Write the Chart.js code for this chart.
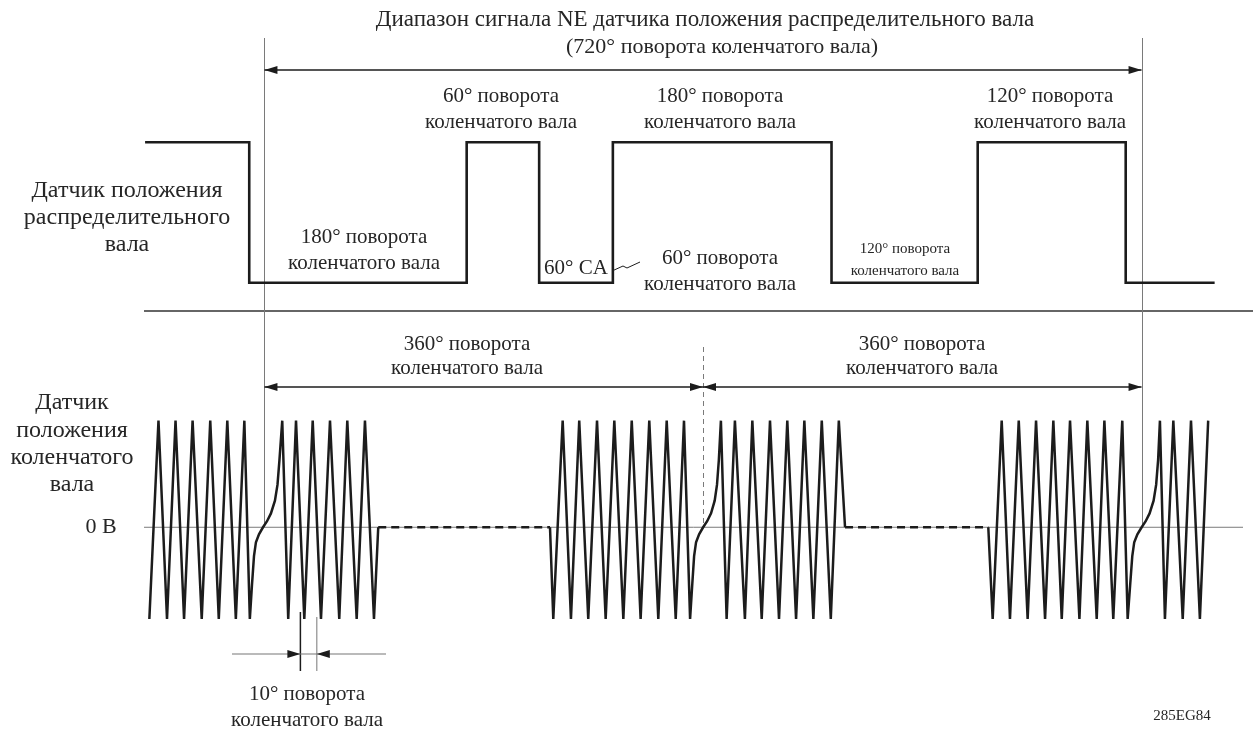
<!DOCTYPE html>
<html lang="ru">
<head>
  <meta charset="UTF-8">
  <title>Сигналы датчиков положения валов</title>
  <script src="https://cdn.jsdelivr.net/npm/chart.js"></script>
  <style>
    html, body {
      margin: 0;
      padding: 0;
      background: #fff;
    }
    .chart-container {
      position: relative;
      width: 1253px;
      height: 731px;
    }
  </style>
</head>
<body>
  <div class="chart-container">
    <canvas id="sensorChart"></canvas>
  </div>

  <script>
    // x = crank angle in degrees, 0 = start of the 720° NE window

    // camshaft sensor: edge angles and the level after each edge
    const camEdges  = [-98, -12.5, 166, 225.5, 286, 465.5, 585.5, 707, 780];
    const camLevels = [1, 0, 1, 0, 1, 0, 1, 0, 0];

    // crankshaft sensor: angle and relative voltage (1 = tooth peak, -0.86 = trough)
    const crankAngles = [
      -94.5, -87, -80, -73, -66, -59, -51.5, -44.5, -37.5, -30.5, -23.5, -16.5, -12,
      -10.3, -8.6, -7, -4.5, -1.2, 2.1, 5.3, 8.6, 10.7, 12.3,
      14.6, 19.5, 25.9, 32.7, 39.6, 46.4, 53.8, 61.4, 68, 75.7, 82.5, 89.9, 93.4,
      234.4,
      237.1, 244.8, 251.6, 258.4, 265.8, 273, 280.1, 287.2, 294.6, 301.5, 308.8, 315.9, 323.3, 330.2, 337.6, 344.4, 349.4,
      351.1, 352.7, 354.3, 356.8, 360.1, 363.4, 366.6, 369.6, 371.5, 373,
      374.7, 379.4, 386.2, 394.4, 400.5, 408.2, 415, 422.4, 429.2, 436.4, 443.2, 450.6, 457.5, 464.9, 471.5, 476.6,
      594.2,
      597.8, 605.2, 612, 619.2, 626.5, 633.4, 640.8, 647.6, 654.5, 661.3, 669, 675.5, 683.2, 689.5, 696.8, 704.2, 708.6,
      710.6, 712.4, 714, 716.6, 720.1, 723.4, 726.6, 729.9, 732, 733.6,
      735.1, 739.2, 746.1, 753.8, 760.6, 767.9, 774.7
    ];
    const crankLevels = [
      -0.86, 1, -0.86, 1, -0.86, 1, -0.86, 1, -0.86, 1, -0.86, 1, -0.86,
      -0.55, -0.27, -0.14, -0.066, 0, 0.057, 0.13, 0.25, 0.4, 0.63,
      1, -0.86, 1, -0.86, 1, -0.86, 1, -0.86, 1, -0.86, 1, -0.86, 0,
      0,
      -0.86, 1, -0.86, 1, -0.86, 1, -0.86, 1, -0.86, 1, -0.86, 1, -0.86, 1, -0.86, 1, -0.86,
      -0.55, -0.27, -0.14, -0.066, 0, 0.057, 0.13, 0.25, 0.4, 0.63,
      1, -0.86, 1, -0.86, 1, -0.86, 1, -0.86, 1, -0.86, 1, -0.86, 1, -0.86, 1, 0,
      0,
      -0.86, 1, -0.86, 1, -0.86, 1, -0.86, 1, -0.86, 1, -0.86, 1, -0.86, 1, -0.86, 1, -0.86,
      -0.55, -0.27, -0.14, -0.066, 0, 0.057, 0.13, 0.25, 0.4, 0.63,
      1, -0.86, 1, -0.86, 1, -0.86, 1
    ];

    // angle marks used by the dimension arrows
    const windowMarks = [0, 360, 720];
    const toothMarks = [29.5, 43];

    const SERIF = '"Liberation Serif", "DejaVu Serif", serif';
    const INK = '#1c1c1c';

    // text labels: [text, x px, y px, font size]
    const labels = [
      ['Диапазон сигнала NE датчика положения распределительного вала', 705, 20, 23],
      ['(720° поворота коленчатого вала)', 722, 47, 22],
      ['60° поворота', 501, 96, 21], ['коленчатого вала', 501, 122, 21],
      ['180° поворота', 720, 96, 21], ['коленчатого вала', 720, 122, 21],
      ['120° поворота', 1050, 96, 21], ['коленчатого вала', 1050, 122, 21],
      ['180° поворота', 364, 237, 21], ['коленчатого вала', 364, 263, 21],
      ['60° поворота', 720, 258, 21], ['коленчатого вала', 720, 284, 21],
      ['120° поворота', 905, 249, 15], ['коленчатого вала', 905, 271, 15],
      ['60° CA', 576, 268, 21],
      ['Датчик положения', 127, 191, 24], ['распределительного', 127, 218, 24], ['вала', 127, 245, 24],
      ['Датчик', 72, 403, 24], ['положения', 72, 431, 24], ['коленчатого', 72, 458, 24], ['вала', 72, 485, 24],
      ['0 В', 101, 527, 22],
      ['360° поворота', 467, 344, 21], ['коленчатого вала', 467, 368, 21],
      ['360° поворота', 922, 344, 21], ['коленчатого вала', 922, 368, 21],
      ['10° поворота', 307, 694, 21], ['коленчатого вала', 307, 720, 21],
      ['285EG84', 1182, 716, 15]
    ];

    function arrowHead(ctx, tipX, y, dir) {
      // dir = -1 points left, 1 points right
      ctx.beginPath();
      ctx.moveTo(tipX, y);
      ctx.lineTo(tipX - dir * 13, y - 4);
      ctx.lineTo(tipX - dir * 13, y + 4);
      ctx.closePath();
      ctx.fill();
    }

    function dimArrow(ctx, x1, x2, y) {
      ctx.beginPath();
      ctx.moveTo(x1, y);
      ctx.lineTo(x2, y);
      ctx.stroke();
      arrowHead(ctx, x1, y, -1);
      arrowHead(ctx, x2, y, 1);
    }

    const diagramPlugin = {
      id: 'diagram',
      beforeDatasetsDraw(chart) {
        const { ctx, scales } = chart;
        const x = scales.x, yCrank = scales.yCrank;
        const zeroY = yCrank.getPixelForValue(0);
        ctx.save();

        // separator between the two sensors
        ctx.strokeStyle = '#666';
        ctx.lineWidth = 2;
        ctx.beginPath();
        ctx.moveTo(144, 311);
        ctx.lineTo(1253, 311);
        ctx.stroke();

        // 0 V baseline
        ctx.strokeStyle = '#7a7a7a';
        ctx.lineWidth = 1;
        ctx.beginPath();
        ctx.moveTo(144, zeroY);
        ctx.lineTo(1243, zeroY);
        ctx.stroke();

        // window borders
        [windowMarks[0], windowMarks[2]].forEach(a => {
          const px = Math.round(x.getPixelForValue(a)) + 0.5;
          ctx.beginPath();
          ctx.moveTo(px, 38);
          ctx.lineTo(px, zeroY);
          ctx.stroke();
        });

        // dashed 360° mark
        const mid = Math.round(x.getPixelForValue(windowMarks[1])) + 0.5;
        ctx.setLineDash([5, 4]);
        ctx.beginPath();
        ctx.moveTo(mid, 347);
        ctx.lineTo(mid, zeroY);
        ctx.stroke();
        ctx.setLineDash([]);

        // 10° tooth pitch marks
        ctx.strokeStyle = INK;
        ctx.lineWidth = 1.5;
        ctx.beginPath();
        ctx.moveTo(x.getPixelForValue(toothMarks[0]), 612);
        ctx.lineTo(x.getPixelForValue(toothMarks[0]), 671);
        ctx.stroke();
        ctx.strokeStyle = '#777';
        ctx.lineWidth = 1;
        ctx.beginPath();
        ctx.moveTo(x.getPixelForValue(toothMarks[1]), 617);
        ctx.lineTo(x.getPixelForValue(toothMarks[1]), 671);
        ctx.stroke();

        ctx.restore();
      },
      afterDatasetsDraw(chart) {
        const { ctx, scales } = chart;
        const x = scales.x;
        const p0 = x.getPixelForValue(windowMarks[0]);
        const p360 = x.getPixelForValue(windowMarks[1]);
        const p720 = x.getPixelForValue(windowMarks[2]);
        ctx.save();

        ctx.strokeStyle = INK;
        ctx.fillStyle = INK;
        ctx.lineWidth = 1.5;
        dimArrow(ctx, p0, p720, 70);
        dimArrow(ctx, p0, p360, 387);
        dimArrow(ctx, p360, p720, 387);

        // 10° pitch dimension
        const t1 = x.getPixelForValue(toothMarks[0]);
        const t2 = x.getPixelForValue(toothMarks[1]);
        ctx.strokeStyle = '#777';
        ctx.lineWidth = 1.2;
        ctx.beginPath();
        ctx.moveTo(232, 654);
        ctx.lineTo(386, 654);
        ctx.stroke();
        arrowHead(ctx, t1, 654, 1);
        arrowHead(ctx, t2, 654, -1);

        // leader for "60° CA"
        ctx.strokeStyle = INK;
        ctx.lineWidth = 1;
        ctx.beginPath();
        ctx.moveTo(612, 271);
        ctx.lineTo(623, 266);
        ctx.lineTo(627, 268);
        ctx.lineTo(640, 262);
        ctx.stroke();

        ctx.fillStyle = '#262626';
        ctx.textAlign = 'center';
        ctx.textBaseline = 'middle';
        labels.forEach(([text, lx, ly, size]) => {
          ctx.font = `${size}px ${SERIF}`;
          ctx.fillText(text, lx, ly);
        });

        ctx.restore();
      }
    };

    const ctx = document.getElementById('sensorChart').getContext('2d');

    const sensorChart = new Chart(ctx, {
      type: 'line',
      data: {
        datasets: [
          {
            label: 'Датчик положения распределительного вала',
            data: camEdges.map((a, i) => ({ x: a, y: camLevels[i] })),
            yAxisID: 'yCam',
            stepped: true,
            borderColor: INK,
            borderWidth: 2.6,
            pointRadius: 0,
            fill: false
          },
          {
            label: 'Датчик положения коленчатого вала',
            data: crankAngles.map((a, i) => ({ x: a, y: crankLevels[i] })),
            yAxisID: 'yCrank',
            borderColor: INK,
            borderWidth: 2.5,
            pointRadius: 0,
            tension: 0,
            fill: false,
            segment: {
              borderDash: c => (c.p0.parsed.y === 0 && c.p1.parsed.y === 0) ? [8, 5] : undefined
            }
          }
        ]
      },
      options: {
        responsive: true,
        maintainAspectRatio: false,
        animation: false,
        events: [],
        layout: { padding: 0 },
        plugins: {
          legend: { display: false },
          tooltip: { enabled: false }
        },
        scales: {
          x: { type: 'linear', min: -217.1, max: 811.5, display: false },
          yCam: { type: 'linear', min: -3.193, max: 2.0136, display: false },
          yCrank: { type: 'linear', min: -1.911, max: 4.946, display: false }
        }
      },
      plugins: [diagramPlugin]
    });
  </script>
</body>
</html>
